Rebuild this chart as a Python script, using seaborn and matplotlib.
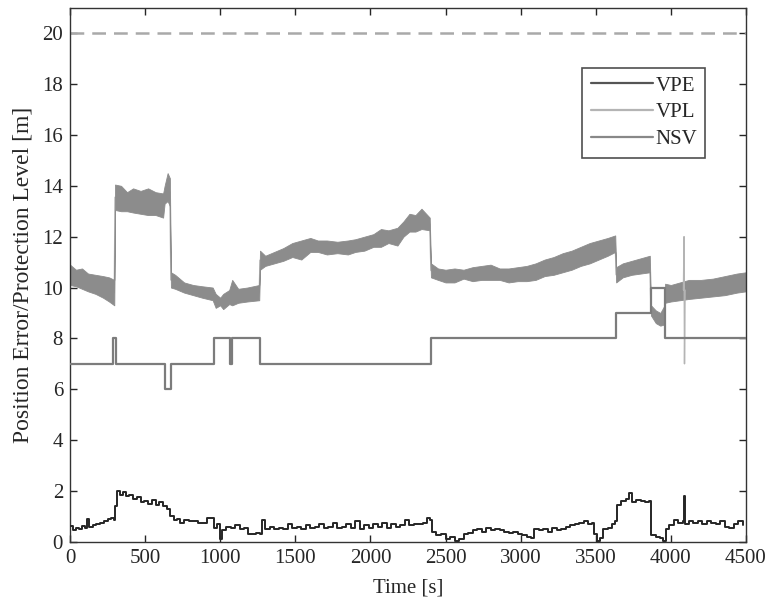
import pandas as pd
import seaborn as sns
from matplotlib import pyplot as plt

# VPL band: lower / upper envelope
vpl_t = [0, 40, 80, 120, 170, 220, 260, 295,
         300, 340, 380, 420, 470, 520, 570, 620, 630, 650, 665,
         672, 700, 760, 820, 880, 950, 970, 1000, 1020, 1060, 1080, 1120, 1180, 1260,
         1265, 1300, 1360, 1420, 1480, 1540, 1600, 1650, 1710, 1780, 1850, 1900, 1960,
         2020, 2070, 2120, 2180, 2220, 2260, 2300, 2340, 2395,
         2403, 2450, 2500, 2560, 2620, 2680, 2740, 2800, 2860, 2920, 2980, 3040, 3100,
         3160, 3220, 3280, 3340, 3400, 3460, 3520, 3580, 3630,
         3636, 3680, 3740, 3800, 3860,
         3868, 3900, 3930, 3958,
         3962, 4000, 4060, 4120, 4200, 4280, 4360, 4440, 4500]
vpl_lo = [10.1, 10.05, 9.95, 9.85, 9.75, 9.6, 9.45, 9.3,
          13.05, 13.0, 13.0, 12.95, 12.9, 12.85, 12.85, 12.75, 13.3, 13.4, 13.2,
          10.0, 9.95, 9.8, 9.7, 9.6, 9.5, 9.2, 9.3, 9.15, 9.35, 9.3, 9.4, 9.45, 9.5,
          10.7, 10.85, 10.95, 11.05, 11.2, 11.1, 11.4, 11.4, 11.3, 11.35, 11.3, 11.4, 11.45,
          11.6, 11.6, 11.75, 11.65, 12.0, 12.2, 12.2, 12.3, 12.25,
          10.4, 10.3, 10.2, 10.2, 10.35, 10.25, 10.3, 10.3, 10.3, 10.2, 10.25, 10.25, 10.3,
          10.45, 10.5, 10.6, 10.7, 10.85, 10.95, 11.1, 11.25, 11.4,
          10.2, 10.4, 10.5, 10.55, 10.6,
          8.9, 8.6, 8.5, 8.55,
          9.4, 9.45, 9.5, 9.55, 9.6, 9.65, 9.7, 9.8, 9.85]
vpl_hi = [10.9, 10.7, 10.75, 10.55, 10.5, 10.45, 10.4, 10.3,
          14.05, 14.0, 13.75, 13.9, 13.8, 13.9, 13.75, 13.7, 14.0, 14.5, 14.3,
          10.6, 10.5, 10.2, 10.1, 10.05, 10.0, 9.75, 9.6, 9.75, 9.9, 10.3, 9.95, 10.0, 10.1,
          11.45, 11.25, 11.4, 11.55, 11.75, 11.85, 11.95, 11.85, 11.85, 11.8, 11.85, 11.9, 12.0,
          12.1, 12.3, 12.25, 12.35, 12.6, 12.9, 12.85, 13.1, 12.75,
          10.95, 10.75, 10.7, 10.75, 10.7, 10.8, 10.85, 10.9, 10.75, 10.75, 10.8, 10.85, 10.95,
          11.1, 11.2, 11.35, 11.45, 11.6, 11.75, 11.85, 11.95, 12.05,
          10.8, 10.95, 11.05, 11.15, 11.25,
          9.3, 9.1, 9.0, 9.3,
          10.15, 10.1, 10.2, 10.3, 10.3, 10.35, 10.45, 10.55, 10.6]

# short VPL spike near 4090 s
spike_t = [4084, 4088, 4091, 4095]
spike_v = [9.9, 12.0, 7.0, 9.9]

# number of satellites (step)
nsv_t = [0, 285, 305, 630, 670, 962, 1065, 1080, 1265, 2403, 3635, 3866, 3960, 4500]
nsv_v = [7, 8, 7, 6, 7, 8, 7, 8, 7, 8, 9, 10, 8, 8]

# vertical position error
vpe_t = [0, 20, 40, 60, 80, 100, 115, 125, 150, 175, 200, 225, 250, 270, 290,
         300, 315, 335, 350, 370, 395, 420, 445, 470, 495, 520, 545, 570, 595, 620,
         645, 665, 690, 710, 735, 760, 790, 820, 850, 880, 910, 940, 960, 980, 1000,
         1010, 1040, 1070, 1100, 1130, 1160, 1185, 1210, 1240, 1265, 1280, 1300, 1330,
         1360, 1390, 1420, 1450, 1480, 1510, 1540, 1570, 1600, 1630, 1660, 1690, 1720,
         1750, 1780, 1810, 1840, 1870, 1900, 1930, 1960, 1990, 2020, 2050, 2080, 2110,
         2140, 2170, 2200, 2230, 2260, 2290, 2320, 2350, 2375, 2395, 2410, 2440, 2470,
         2500, 2530, 2560, 2590, 2620, 2650, 2680, 2710, 2740, 2770, 2800, 2830, 2860,
         2890, 2920, 2950, 2980, 3010, 3040, 3070, 3090, 3120, 3150, 3180, 3210, 3240,
         3270, 3300, 3330, 3360, 3390, 3420, 3450, 3475, 3490, 3510, 3530, 3550, 3580,
         3610, 3630, 3640, 3670, 3700, 3720, 3740, 3770, 3800, 3830, 3855, 3870, 3900,
         3930, 3950, 3970, 3990, 4020, 4050, 4080, 4088, 4095, 4120, 4150, 4180, 4210,
         4240, 4270, 4300, 4330, 4360, 4390, 4420, 4450, 4480]
vpe_v = [0.62, 0.45, 0.55, 0.5, 0.62, 0.55, 0.9, 0.6, 0.65, 0.7, 0.72, 0.8, 0.9, 0.95, 0.85,
         1.4, 2.0, 1.85, 1.95, 1.8, 1.85, 1.7, 1.75, 1.55, 1.6, 1.5, 1.65, 1.45, 1.55, 1.4,
         1.3, 1.0, 0.85, 0.9, 0.75, 0.85, 0.82, 0.8, 0.75, 0.75, 0.95, 0.92, 0.55, 0.7, 0.1,
         0.45, 0.6, 0.55, 0.65, 0.5, 0.55, 0.3, 0.3, 0.35, 0.3, 0.85, 0.5, 0.6,
         0.5, 0.55, 0.5, 0.7, 0.55, 0.6, 0.5, 0.65, 0.55, 0.6, 0.7, 0.55, 0.6,
         0.75, 0.55, 0.6, 0.7, 0.55, 0.8, 0.5, 0.65, 0.55, 0.7, 0.6, 0.75, 0.55,
         0.7, 0.6, 0.65, 0.85, 0.65, 0.7, 0.7, 0.75, 0.95, 0.85, 0.4, 0.25, 0.3,
         0.1, 0.2, 0.05, 0.1, 0.3, 0.35, 0.45, 0.5, 0.4, 0.55, 0.45, 0.5, 0.45,
         0.4, 0.35, 0.4, 0.3, 0.25, 0.2, 0.15, 0.5, 0.45, 0.5, 0.4, 0.55, 0.45,
         0.5, 0.6, 0.65, 0.7, 0.75, 0.8, 0.7, 0.75, 0.3, 0.05, 0.15, 0.5, 0.55,
         0.7, 0.8, 1.45, 1.6, 1.7, 1.9, 1.55, 1.65, 1.6, 1.55, 1.6, 0.25, 0.2,
         0.15, 0.05, 0.5, 0.65, 0.85, 0.75, 0.8, 1.8, 0.7, 0.8, 0.75, 0.8, 0.7,
         0.8, 0.75, 0.7, 0.8, 0.6, 0.55, 0.7, 0.8, 0.65]

vpl = pd.DataFrame({"t": vpl_t, "lo": vpl_lo, "hi": vpl_hi})
vpl["mid"] = (vpl["lo"] + vpl["hi"]) / 2

sns.set_style("ticks")
plt.rcParams["font.family"] = ["Liberation Serif", "DejaVu Serif"]
plt.rcParams["font.size"] = 15

fig, ax = plt.subplots(figsize=(7.69, 6.02), dpi=100)
fig.subplots_adjust(left=0.091, right=0.97, bottom=0.1, top=0.987)

ax.axhline(20, color="#a9a9a9", lw=1.8, dashes=(5.5, 3.2), zorder=1)

# thin connector line underneath, shows only at the jumps
sns.lineplot(x=vpl["t"], y=vpl["mid"], ax=ax, color="#b4b4b4", lw=1.0,
             estimator=None, sort=False, zorder=1.5)
ax.fill_between(vpl["t"], vpl["lo"], vpl["hi"], color="#8c8c8c",
                edgecolor="#8c8c8c", lw=0.6, zorder=2)
sns.lineplot(x=spike_t, y=spike_v, ax=ax, color="#b4b4b4", lw=1.0,
             estimator=None, sort=False, zorder=2)
sns.lineplot(x=nsv_t, y=nsv_v, ax=ax, color="#7c7c7c", lw=1.6,
             estimator=None, sort=False, drawstyle="steps-post", zorder=3)
sns.lineplot(x=vpe_t, y=vpe_v, ax=ax, color="#262626", lw=1.4,
             estimator=None, sort=False, drawstyle="steps-post", zorder=4)

handles = [plt.Line2D([], [], color="#555555", lw=1.6),
           plt.Line2D([], [], color="#b4b4b4", lw=1.6),
           plt.Line2D([], [], color="#888888", lw=1.6)]
leg = ax.legend(handles, ["VPE", "VPL", "NSV"], loc="upper right",
                bbox_to_anchor=(0.94, 0.888), borderaxespad=0, fancybox=False,
                handlelength=3.0, handletextpad=0.1, labelspacing=0.35,
                borderpad=0.4, fontsize=15)
leg.get_frame().set_edgecolor("#222222")
leg.get_frame().set_linewidth(1.2)

ax.set_xlim(0, 4500)
ax.set_ylim(0, 21)
ax.set_xticks(range(0, 4501, 500))
ax.set_yticks(range(0, 21, 2))
ax.tick_params(direction="in", top=True, right=True, length=5, width=1,
               labelsize=15, pad=5)
for s in ax.spines.values():
    s.set_linewidth(1.0)
    s.set_color("#333333")

ax.set_xlabel("Time [s]", fontsize=15, labelpad=8)
ax.set_ylabel("Position Error/Protection Level [m]", fontsize=17, labelpad=6)

fig.savefig("out.png", dpi=100)
